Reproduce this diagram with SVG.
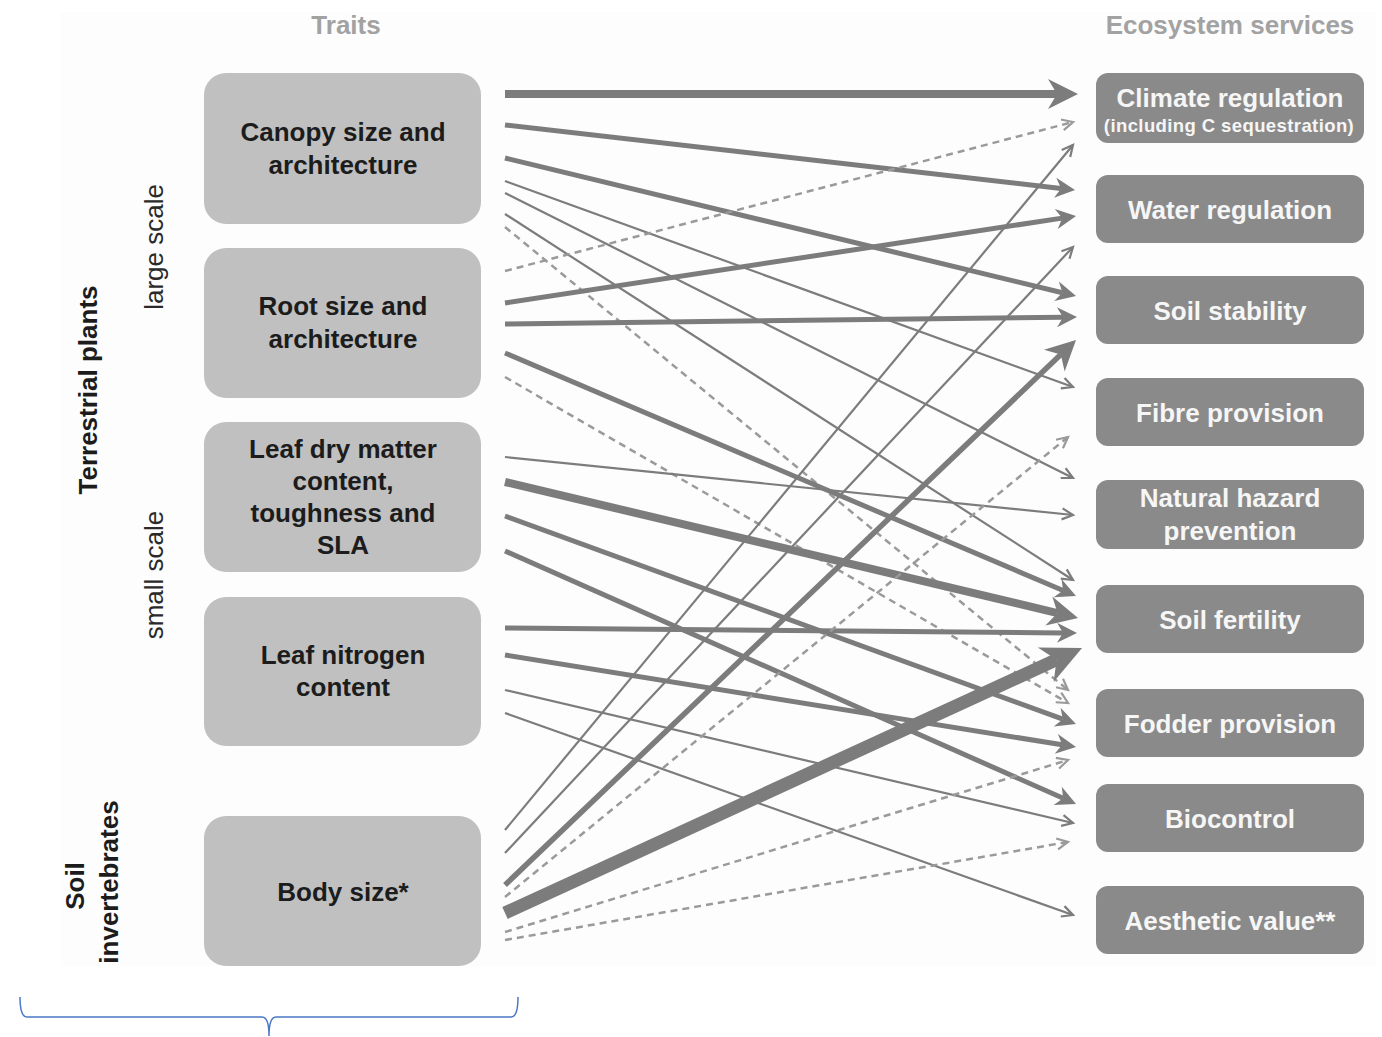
<svg xmlns="http://www.w3.org/2000/svg" width="1382" height="1037" viewBox="0 0 1382 1037">
<style>
.bg{fill:#fdfdfd}
.trait rect{fill:#c0c0c0}
.trait text{font-family:"Liberation Sans",Arial,sans-serif;font-weight:bold;font-size:26px;fill:#1c1c1c;text-anchor:middle}
.svc rect{fill:#8a8a8a}
.svc text{font-family:"Liberation Sans",Arial,sans-serif;font-weight:bold;font-size:26px;fill:#f6f6f6;text-anchor:middle}
.svc text.small{font-size:18.5px;letter-spacing:0.4px}
.title{font-family:"Liberation Sans",Arial,sans-serif;font-weight:bold;font-size:26px;fill:#a2a2a2;text-anchor:middle}
.side{font-family:"Liberation Sans",Arial,sans-serif;font-size:26px;fill:#2a2a2a;text-anchor:middle}
.side.b{font-weight:bold;fill:#1c1c1c}
.c path{fill:none;stroke:#7c7c7c;stroke-linecap:butt}
.c .thin{stroke-width:2.2;marker-end:url(#mThin)}
.c .dash{stroke:#9a9a9a;stroke-width:2.5;stroke-dasharray:7 5;marker-end:url(#mDash)}
.c .med{stroke-width:5;marker-end:url(#mMed)}
.c .thick{stroke-width:8;marker-end:url(#mThick)}
.c .vthick{stroke-width:13;marker-end:url(#mV)}
.brace{fill:none;stroke:#4a78c6;stroke-width:1.5}
</style>
<defs>
<marker id="mThin" markerUnits="userSpaceOnUse" markerWidth="16" markerHeight="16" refX="0" refY="0" orient="auto" overflow="visible"><path d="M-11,-5.5 L0,0 L-11,5.5" fill="none" stroke="#7c7c7c" stroke-width="2.2"/></marker>
<marker id="mDash" markerUnits="userSpaceOnUse" markerWidth="16" markerHeight="16" refX="0" refY="0" orient="auto" overflow="visible"><path d="M-11,-5.5 L0,0 L-11,5.5" fill="none" stroke="#9a9a9a" stroke-width="2.2"/></marker>
<marker id="mMed" markerUnits="userSpaceOnUse" markerWidth="24" markerHeight="24" refX="6" refY="0" orient="auto" overflow="visible"><path d="M0,-10 L20,0 L0,10 L6,0 Z" fill="#7c7c7c"/></marker>
<marker id="mThick" markerUnits="userSpaceOnUse" markerWidth="34" markerHeight="34" refX="9" refY="0" orient="auto" overflow="visible"><path d="M0,-15 L30,0 L0,15 L9,0 Z" fill="#7c7c7c"/></marker>
<marker id="mV" markerUnits="userSpaceOnUse" markerWidth="44" markerHeight="44" refX="12" refY="0" orient="auto" overflow="visible"><path d="M0,-19 L40,0 L0,19 L12,0 Z" fill="#7c7c7c"/></marker>
<clipPath id="clipSide"><rect x="0" y="0" width="200" height="966"/></clipPath>
</defs>
<rect class="bg" x="61" y="12" width="1315" height="954"/>
<text class="title" x="346" y="34">Traits</text>
<text class="title" x="1230" y="34">Ecosystem services</text>
<g id="side-labels">
<text class="side b" transform="translate(97,390) rotate(-90)">Terrestrial plants</text>
<text class="side" transform="translate(163,247) rotate(-90)">large scale</text>
<text class="side" transform="translate(163,575) rotate(-90)">small scale</text>
<g clip-path="url(#clipSide)">
<text class="side b" transform="translate(84,886) rotate(-90)">Soil</text>
<text class="side b" transform="translate(118,882) rotate(-90)">invertebrates</text>
</g>
</g>
<g id="trait-canopy" class="trait"><rect x="204" y="73" width="277" height="151" rx="22"/><text x="343" y="141">Canopy size and</text><text x="343" y="174">architecture</text></g>
<g id="trait-root" class="trait"><rect x="204" y="248" width="277" height="150" rx="22"/><text x="343" y="315">Root size and</text><text x="343" y="348">architecture</text></g>
<g id="trait-leafdry" class="trait"><rect x="204" y="422" width="277" height="150" rx="22"/><text x="343" y="458">Leaf dry matter</text><text x="343" y="490">content,</text><text x="343" y="522">toughness and</text><text x="343" y="554">SLA</text></g>
<g id="trait-leafn" class="trait"><rect x="204" y="597" width="277" height="149" rx="22"/><text x="343" y="664">Leaf nitrogen</text><text x="343" y="696">content</text></g>
<g id="trait-body" class="trait"><rect x="204" y="816" width="277" height="150" rx="22"/><text x="343" y="901">Body size*</text></g>
<g id="svc-climate" class="svc"><rect x="1096" y="73" width="268" height="70" rx="12"/><text x="1230" y="107">Climate regulation</text><text class="small" x="1229" y="132">(including C sequestration)</text></g>
<g id="svc-water" class="svc"><rect x="1096" y="175" width="268" height="68" rx="12"/><text x="1230" y="219">Water regulation</text></g>
<g id="svc-soilstab" class="svc"><rect x="1096" y="276" width="268" height="68" rx="12"/><text x="1230" y="320">Soil stability</text></g>
<g id="svc-fibre" class="svc"><rect x="1096" y="378" width="268" height="68" rx="12"/><text x="1230" y="422">Fibre provision</text></g>
<g id="svc-hazard" class="svc"><rect x="1096" y="480" width="268" height="69" rx="12"/><text x="1230" y="507">Natural hazard</text><text x="1230" y="540">prevention</text></g>
<g id="svc-fertility" class="svc"><rect x="1096" y="585" width="268" height="68" rx="12"/><text x="1230" y="629">Soil fertility</text></g>
<g id="svc-fodder" class="svc"><rect x="1096" y="689" width="268" height="68" rx="12"/><text x="1230" y="733">Fodder provision</text></g>
<g id="svc-biocontrol" class="svc"><rect x="1096" y="784" width="268" height="68" rx="12"/><text x="1230" y="828">Biocontrol</text></g>
<g id="svc-aesthetic" class="svc"><rect x="1096" y="886" width="268" height="68" rx="12"/><text x="1230" y="930">Aesthetic value**</text></g>
<g id="connectors" class="c">
<path class="thick" d="M505,94 L1057,94"/>
<path class="med" d="M505,125 L1061.1,188.4"/>
<path class="med" d="M505,158 L1062.4,292.7"/>
<path class="thin" d="M505,181 L1073,387"/>
<path class="thin" d="M505,193 L1073,478"/>
<path class="thin" d="M505,214 L1073,580"/>
<path class="dash" d="M505,227 L1068,690"/>
<path class="dash" d="M505,271 L1073,122"/>
<path class="med" d="M505,303 L1062.2,218.1"/>
<path class="med" d="M505,324 L1063,317.2"/>
<path class="med" d="M505,353 L1063.1,590.5"/>
<path class="dash" d="M505,377 L1068,703"/>
<path class="thin" d="M505,457 L1073,515"/>
<path class="thick" d="M505,482 L1057.6,613.1"/>
<path class="med" d="M505,516 L1062.8,719.2"/>
<path class="med" d="M505,551 L1063.2,798.3"/>
<path class="med" d="M505,628 L1063,632.9"/>
<path class="med" d="M505,655 L1062.2,744.8"/>
<path class="thin" d="M505,690 L1073,823"/>
<path class="thin" d="M505,713 L1073,915"/>
<path class="thin" d="M505,830 L1073,145"/>
<path class="thin" d="M505,853 L1073,247"/>
<path class="med" style="stroke-width:5.5;marker-end:url(#mThick)" d="M505,885 L1060.8,354.5"/>
<path class="dash" d="M505,897 L1068,437"/>
<path class="vthick" d="M505,913 L1056.6,659.7"/>
<path class="dash" d="M505,932 L1068,760"/>
<path class="dash" d="M505,940 L1068,842"/>
</g>
<path class="brace" d="M20,997 Q20,1017 27,1017 L262,1017 Q269,1017 269,1036 M269,1036 Q269,1017 276,1017 L511,1017 Q518,1017 518,997"/>
</svg>
